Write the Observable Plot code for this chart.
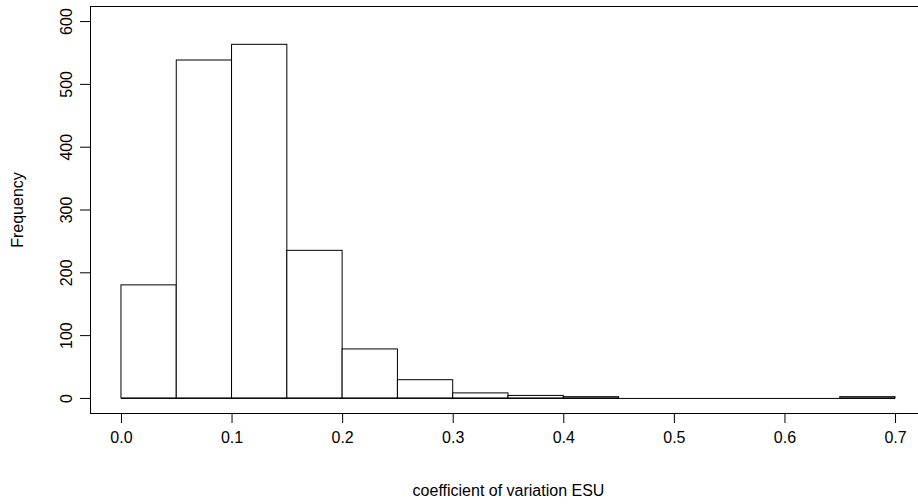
<!DOCTYPE html>
<html>
<head>
<meta charset="utf-8">
<script src="https://cdn.jsdelivr.net/npm/d3@7"></script>
<script src="https://cdn.jsdelivr.net/npm/@observablehq/plot@0.6"></script>
<style>
  html, body { margin: 0; padding: 0; background: #fff; }
  #chart svg { display: block; }
</style>
</head>
<body>
<div id="chart"></div>
<script>
// Histogram bins (left edges / right edges) and counts
const binStart = [0.00, 0.05, 0.10, 0.15, 0.20, 0.25, 0.30, 0.35, 0.40, 0.45, 0.50, 0.55, 0.60, 0.65];
const binEnd   = [0.05, 0.10, 0.15, 0.20, 0.25, 0.30, 0.35, 0.40, 0.45, 0.50, 0.55, 0.60, 0.65, 0.70];
const counts   = [180, 538, 563, 235, 78, 29, 8, 4, 2, 0, 0, 0, 0, 2];
const xTicks = [0, 0.1, 0.2, 0.3, 0.4, 0.5, 0.6, 0.7];
const yTicks = [0, 100, 200, 300, 400, 500, 600];
const xTitle = "coefficient of variation ESU";
const yTitle = "Frequency";

const bins = binStart.map((s, i) => ({x1: s, x2: binEnd[i], count: counts[i]}));
const baseline = [{x1: binStart[0], x2: binEnd[binEnd.length - 1], y: 0}];

const font = "Liberation Sans, Arial, sans-serif";

const chart = Plot.plot({
  width: 918,
  height: 504,
  marginLeft: 90,
  marginRight: -8,
  marginTop: 6,
  marginBottom: 91,
  style: {fontFamily: font, fontSize: "16px", color: "#000", background: "#fff"},
  x: {domain: [-0.028, 0.728]},
  y: {domain: [-24, 624]},
  marks: [
    Plot.ruleY(baseline, {x1: "x1", x2: "x2", y: "y", stroke: "#000", strokeWidth: 1}),
    Plot.rectY(bins, {x1: "x1", x2: "x2", y: "count", fill: "#fff", stroke: "#000", strokeWidth: 1, inset: 0}),
    Plot.frame({stroke: "#000", strokeWidth: 1}),
    Plot.axisX({ticks: xTicks, tickSize: 10, tickPadding: 8, tickFormat: d3.format(".1f"), label: null, fontSize: 16}),
    Plot.axisY({ticks: yTicks, tickSize: 10, tickPadding: 9, tickRotate: -90, label: null, fontSize: 16}),
    Plot.text([xTitle], {frameAnchor: "bottom", dy: 82, text: d => d, fontSize: 16}),
    Plot.text([yTitle], {frameAnchor: "left", dx: -73, rotate: -90, textAnchor: "middle", text: d => d, fontSize: 16})
  ]
});
document.getElementById("chart").appendChild(chart);
</script>
</body>
</html>
